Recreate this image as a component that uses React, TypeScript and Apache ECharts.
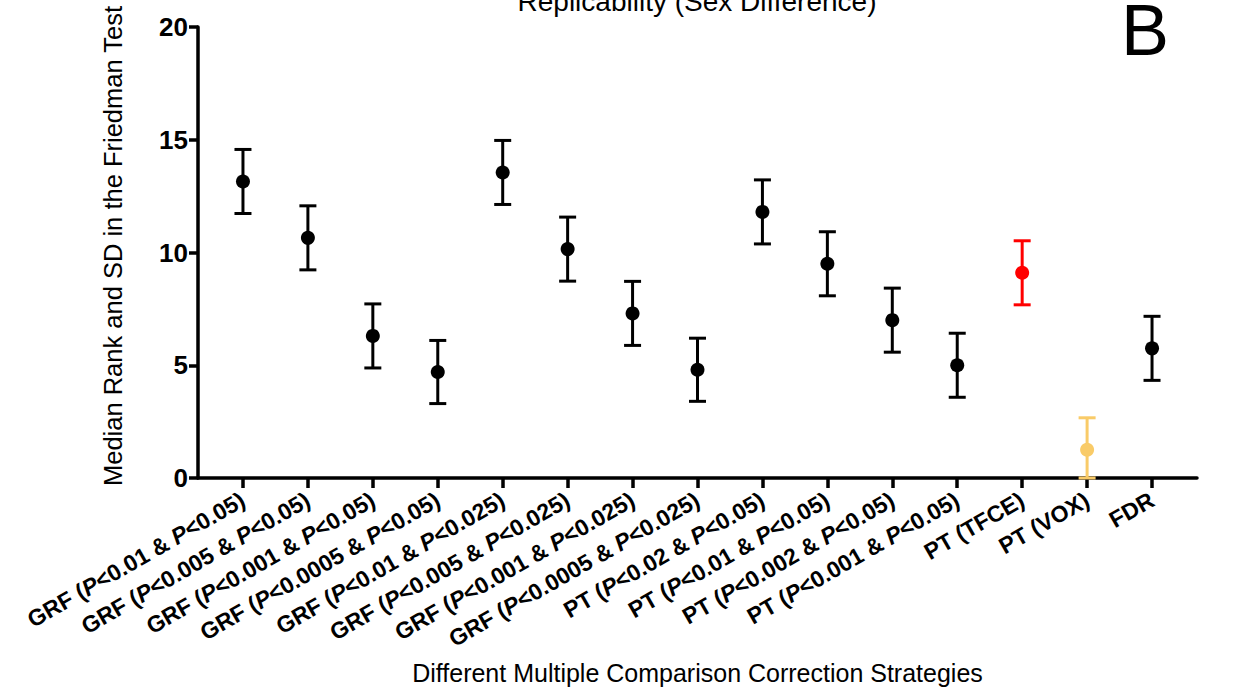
import React, { useEffect, useRef } from "react";
import * as echarts from "echarts";

const categories = [
  "GRF (P<0.01 & P<0.05)",
  "GRF (P<0.005 & P<0.05)",
  "GRF (P<0.001 & P<0.05)",
  "GRF (P<0.0005 & P<0.05)",
  "GRF (P<0.01 & P<0.025)",
  "GRF (P<0.005 & P<0.025)",
  "GRF (P<0.001 & P<0.025)",
  "GRF (P<0.0005 & P<0.025)",
  "PT (P<0.02 & P<0.05)",
  "PT (P<0.01 & P<0.05)",
  "PT (P<0.002 & P<0.05)",
  "PT (P<0.001 & P<0.05)",
  "PT (TFCE)",
  "PT (VOX)",
  "FDR",
];
const medians = [13.15, 10.65, 6.3, 4.7, 13.55, 10.15, 7.3, 4.8, 11.8, 9.5, 7.0, 5.0, 9.1, 1.25, 5.75];
const sds = [1.42, 1.42, 1.42, 1.4, 1.42, 1.42, 1.42, 1.4, 1.42, 1.42, 1.42, 1.42, 1.42, 1.42, 1.42];
const pointColors = [
  "#000000", "#000000", "#000000", "#000000", "#000000", "#000000", "#000000", "#000000",
  "#000000", "#000000", "#000000", "#000000", "#FF0000", "#F9CB68", "#000000",
];
const yTicks = [0, 5, 10, 15, 20];

const FONT = '"Liberation Sans", Arial, Helvetica, sans-serif';

export default function App() {
  const ref = useRef<HTMLDivElement>(null);
  useEffect(() => {
    if (!ref.current) return;
    const chart = echarts.init(ref.current, null, { renderer: "svg" });
    const errData = medians.map((m, i) => [i, Math.max(yTicks[0], m - sds[i]), m + sds[i]]);
    const option: any = {
      animation: false,
      backgroundColor: "#ffffff",
      textStyle: { fontFamily: FONT },
      graphic: [
        {
          type: "text",
          x: 697,
          y: 1,
          style: {
            text: "Replicability (Sex Difference)",
            font: `28px ${FONT}`,
            fill: "#000",
            textAlign: "center",
            textVerticalAlign: "middle",
          },
        },
        {
          type: "text",
          x: 1145,
          y: 30,
          style: {
            text: "B",
            font: `72px ${FONT}`,
            fill: "#000",
            textAlign: "center",
            textVerticalAlign: "middle",
          },
        },
        {
          type: "text",
          x: 113,
          y: 246,
          rotation: Math.PI / 2,
          style: {
            text: "Median Rank and SD in the Friedman Test",
            font: `25.5px ${FONT}`,
            fill: "#000",
            textAlign: "center",
            textVerticalAlign: "middle",
          },
        },
      ],
      grid: [
        { left: 198, right: 38, top: 27, bottom: 212, containLabel: false, outerBoundsMode: "none" },
        { left: 210.5, right: 50.5, top: 27, bottom: 212, containLabel: false, outerBoundsMode: "none" },
      ],
      xAxis: [
        {
          type: "value",
          gridIndex: 0,
          min: 0,
          max: 1,
          axisLine: { show: true, onZero: false, lineStyle: { color: "#000", width: 3.5 } },
          axisTick: { show: false },
          axisLabel: { show: false },
          splitLine: { show: false },
          name: "Different Multiple Comparison Correction Strategies",
          nameLocation: "middle",
          nameGap: 182,
          nameTextStyle: { fontFamily: FONT, fontSize: 25, color: "#000" },
        },
        {
          type: "category",
          gridIndex: 1,
          data: categories,
          boundaryGap: true,
          axisLine: { show: false },
          axisTick: {
            show: true,
            alignWithLabel: true,
            length: 10,
            lineStyle: { color: "#000", width: 3.5 },
          },
          axisLabel: {
            interval: 0,
            rotate: 30,
            margin: 20,
            color: "#000",
            fontFamily: FONT,
            fontWeight: "bold",
            fontSize: 23,
            formatter: (v: string) => v.replace(/P(?=<)/g, "{i|P}"),
            rich: {
              i: { fontStyle: "italic", fontWeight: "bold", fontSize: 23, fontFamily: FONT, color: "#000" },
            },
          },
          splitLine: { show: false },
        },
      ],
      yAxis: [
        {
          type: "value",
          gridIndex: 0,
          min: yTicks[0],
          max: yTicks[yTicks.length - 1],
          interval: 5,
          axisLine: { show: true, lineStyle: { color: "#000", width: 3.5 } },
          axisTick: { show: true, length: 9, lineStyle: { color: "#000", width: 3.5 } },
          axisLabel: {
            margin: 10,
            color: "#000",
            fontFamily: FONT,
            fontWeight: "bold",
            fontSize: 26,
          },
          splitLine: { show: false },
        },
        {
          type: "value",
          gridIndex: 1,
          min: yTicks[0],
          max: yTicks[yTicks.length - 1],
          show: false,
        },
      ],
      series: [
        {
          type: "custom",
          xAxisIndex: 1,
          yAxisIndex: 1,
          z: 3,
          data: errData,
          encode: { x: 0, y: [1, 2] },
          renderItem: (params: any, api: any) => {
            const x = api.value(0);
            const lo = api.value(1);
            const hi = api.value(2);
            const top = api.coord([x, hi]);
            const bot = api.coord([x, lo]);
            const color = pointColors[params.dataIndex];
            const w = 8.5;
            const st = { stroke: color, lineWidth: 3 };
            return {
              type: "group",
              children: [
                { type: "line", shape: { x1: top[0], y1: top[1], x2: bot[0], y2: bot[1] }, style: st },
                { type: "line", shape: { x1: top[0] - w, y1: top[1], x2: top[0] + w, y2: top[1] }, style: st },
                { type: "line", shape: { x1: bot[0] - w, y1: bot[1], x2: bot[0] + w, y2: bot[1] }, style: st },
              ],
            };
          },
        },
        {
          type: "scatter",
          xAxisIndex: 1,
          yAxisIndex: 1,
          z: 4,
          symbol: "circle",
          symbolSize: 14,
          itemStyle: { opacity: 1 },
          data: medians.map((m, i) => ({ value: [i, m], itemStyle: { color: pointColors[i], opacity: 1 } })),
        },
      ],
    };
    chart.setOption(option);
    return () => chart.dispose();
  }, []);
  return (
    <div
      ref={ref}
      style={{ position: "fixed", left: 0, top: 0, width: 1235, height: 690, background: "#fff" }}
    />
  );
}
